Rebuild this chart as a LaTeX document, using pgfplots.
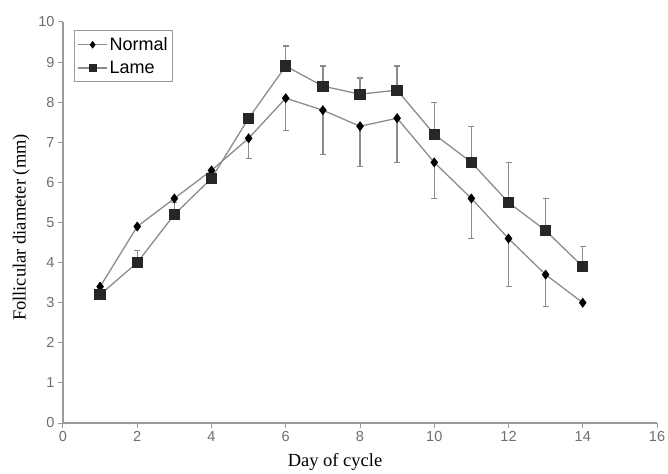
\documentclass[border=0pt]{standalone}
\usepackage{pgfplots}
\pgfplotsset{compat=1.18}
\usepackage{pgfplotstable}
\usepackage{fontspec}
\setmainfont{Liberation Serif}
\newfontfamily\arial{Liberation Sans}

\definecolor{linegray}{HTML}{8C8C8C}
\definecolor{axisgray}{HTML}{9A9A9A}
\definecolor{ticktext}{HTML}{6E6E6E}

% day, mean, error
\pgfplotstableread{
x y e
1 3.4 0
2 4.9 0
3 5.6 0
4 6.3 0.1
5 7.1 0.5
6 8.1 0.8
7 7.8 1.1
8 7.4 1.0
9 7.6 1.1
10 6.5 0.9
11 5.6 1.0
12 4.6 1.2
13 3.7 0.8
14 3.0 0
}\normaltab

\pgfplotstableread{
x y e
1 3.2 0
2 4.0 0.3
3 5.2 0.3
4 6.1 0.15
5 7.6 0
6 8.9 0.5
7 8.4 0.5
8 8.2 0.4
9 8.3 0.6
10 7.2 0.8
11 6.5 0.9
12 5.5 1.0
13 4.8 0.8
14 3.9 0.5
}\lametab

\begin{document}
\begin{tikzpicture}
\begin{axis}[
  name=ax,
  scale only axis,
  width=594pt, height=401pt,
  xmin=0, xmax=16, ymin=0, ymax=10,
  xtick={0,2,...,16}, ytick={0,1,...,10},
  axis lines*=left,
  axis line style={axisgray, line width=1.3pt},
  tick style={axisgray, line width=1pt},
  tick align=outside,
  major tick length=5pt,
  ticklabel style={font=\arial\fontsize{14.5}{14.5}\selectfont, text=ticktext},
  /pgf/number format/assume math mode=true,
  xlabel={Day of cycle},
  ylabel={Follicular diameter (mm)},
  label style={font=\fontsize{18.5}{18.5}\selectfont},
  xlabel style={yshift=-5pt, xshift=-25pt},
  ylabel style={yshift=2pt, xshift=-5pt},
  legend style={at={(0.019,0.98)}, anchor=north west,
    draw=axisgray, line width=1pt, font=\arial\fontsize{18}{18}\selectfont,
    inner xsep=3pt, inner ysep=5pt, row sep=5pt, cells={anchor=west}},
  legend cell align=left,
  legend image code/.code={
    \draw[mark repeat=2, mark phase=2, #1,
      /tikz/every mark/.append style={scale=0.7}]
      plot coordinates {(0cm,0cm) (0.5cm,0cm) (1cm,0cm)};
  },
  clip=false,
]
\addplot[color=linegray, line width=1.3pt,
  mark=diamond*, mark size=4pt,
  mark options={fill=black, draw=black, solid},
  error bars/.cd, y dir=minus, y explicit,
  error bar style={linegray, line width=1.3pt},
  error mark options={rotate=90, mark size=3pt, linegray, line width=1.3pt}]
  table[x=x, y=y, y error=e] {\normaltab};
\addlegendentry{Normal}
\addplot[color=linegray, line width=1.3pt,
  mark=square*, mark size=5pt,
  mark options={fill=black!85, draw=black!85, solid},
  error bars/.cd, y dir=plus, y explicit,
  error bar style={linegray, line width=1.3pt},
  error mark options={rotate=90, mark size=3pt, linegray, line width=1.3pt}]
  table[x=x, y=y, y error=e] {\lametab};
\addlegendentry{Lame}
\end{axis}
\pgfresetboundingbox
\path ([xshift=-63pt,yshift=-50pt]ax.south west) rectangle ([xshift=11pt,yshift=22pt]ax.north east);
\end{tikzpicture}
\end{document}
